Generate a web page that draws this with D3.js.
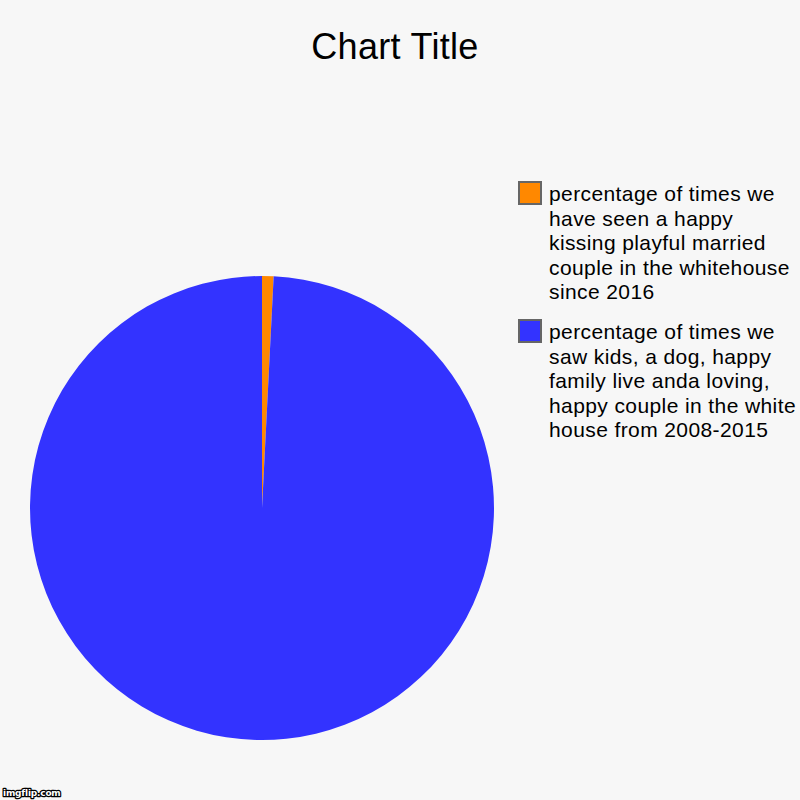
<!DOCTYPE html>
<html>
<head>
<meta charset="utf-8">
<script src="https://cdn.jsdelivr.net/npm/d3@7"></script>
<style>
  html, body { margin: 0; padding: 0; background: #f7f7f7; }
  svg { display: block; }
</style>
</head>
<body>
<svg id="chart" width="800" height="800"></svg>
<script>
const title = "Chart Title";
const categories = [
  "percentage of times we have seen a happy kissing playful married couple in the whitehouse since 2016",
  "percentage of times we saw kids, a dog, happy family live anda loving, happy couple in the white house from 2008-2015"
];
const values = [0.8, 99.2];
const colors = ["#ff8800", "#3333ff"];
const watermark = "imgflip.com";

const W = 800, H = 800;
const svg = d3.select("#chart");
svg.append("rect").attr("width", W).attr("height", H).attr("fill", "#f7f7f7");

svg.append("text")
  .attr("x", 395).attr("y", 59)
  .attr("text-anchor", "middle")
  .attr("font-family", "Liberation Sans, Arial, sans-serif")
  .attr("font-size", 36)
  .attr("letter-spacing", "0.3px")
  .attr("fill", "#000")
  .text(title);

const cx = 262, cy = 508, r = 232;
const data = categories.map((c, i) => ({ name: c, value: values[i], color: colors[i] }));
const pie = d3.pie().sort(null).value(d => d.value);
const arc = d3.arc().innerRadius(0).outerRadius(r);
const color = d3.scaleOrdinal().domain(categories).range(colors);

svg.append("g").attr("transform", `translate(${cx},${cy})`)
  .selectAll("path").data(pie(data)).join("path")
  .attr("d", arc)
  .attr("fill", d => color(d.data.name));

// legend
const legendX = 519, textX = 549, maxW = 252, lineH = 24.6;
const legendTops = [182, 320];
const legend = svg.append("g");
const ctx = document.createElement("canvas").getContext("2d");
ctx.font = "21px Liberation Sans";
function measure(s) { return ctx.measureText(s).width + s.length * 0.4; }
function wrap(s) {
  const words = s.split(" ");
  const lines = [];
  let cur = "";
  words.forEach(w => {
    const t = cur ? cur + " " + w : w;
    if (measure(t) > maxW && cur) { lines.push(cur); cur = w; }
    else cur = t;
  });
  if (cur) lines.push(cur);
  return lines;
}
data.forEach((d, i) => {
  const g = legend.append("g");
  g.append("rect")
    .attr("x", legendX).attr("y", legendTops[i])
    .attr("width", 22).attr("height", 22)
    .attr("fill", color(d.name))
    .attr("stroke", "#666").attr("stroke-width", 2);
  const t = g.append("text")
    .attr("font-family", "Liberation Sans, Arial, sans-serif")
    .attr("font-size", 21)
    .attr("letter-spacing", "0.4px")
    .attr("fill", "#000");
  wrap(d.name).forEach((ln, j) => {
    t.append("tspan").attr("x", textX).attr("y", legendTops[i] + 19 + j * lineH).text(ln);
  });
});

svg.append("text")
  .attr("x", 3).attr("y", 796)
  .attr("font-family", "DejaVu Sans, sans-serif")
  .attr("font-weight", "bold")
  .attr("font-size", 9)
  .attr("letter-spacing", "-0.2px")
  .attr("fill", "#fff")
  .attr("stroke", "#000")
  .attr("stroke-width", 2.5)
  .attr("paint-order", "stroke")
  .attr("stroke-linejoin", "round")
  .text(watermark);
</script>
</body>
</html>
